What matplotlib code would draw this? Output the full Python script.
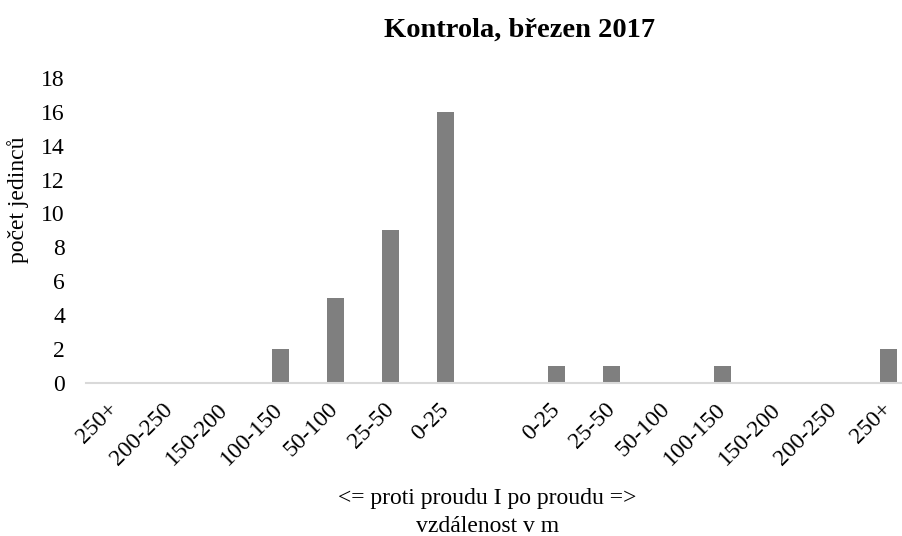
import matplotlib
matplotlib.use("Agg")
import matplotlib.pyplot as plt
import numpy as np

categories = ["250+", "200-250", "150-200", "100-150", "50-100", "25-50", "0-25", "",
              "0-25", "25-50", "50-100", "100-150", "150-200", "200-250", "250+"]
values = [0, 0, 0, 2, 5, 9, 16, 0, 1, 1, 0, 1, 0, 0, 2]
yticks = [0, 2, 4, 6, 8, 10, 12, 14, 16, 18]

title = "Kontrola, březen 2017"
ylabel = "počet jedinců"
xlabel_lines = ["<= proti proudu I po proudu =>", "vzdálenost v m"]

plt.rcParams['font.family'] = ['Liberation Serif', 'DejaVu Serif']

W, H = 903, 536
fig = plt.figure(figsize=(W / 100, H / 100), dpi=100)
left, right = 86.5 / W, 916 / W
bottom, top = (H - 382.7) / H, (H - 78) / H
ax = fig.add_axes([left, bottom, right - left, top - bottom])

x = np.arange(len(categories))
ax.bar(x, values, width=0.307, color="#7f7f7f", zorder=2)
ax.set_xlim(-0.5, len(categories) - 0.5)
ax.set_ylim(0, 18)
ax.set_yticks(yticks)
ax.set_yticklabels([str(v) for v in yticks], fontsize=17)
ax.set_xticks(x)
ax.set_xticklabels(categories, fontsize=17, rotation=45, ha="right",
                   va="center", rotation_mode="anchor")
ax.tick_params(axis="both", length=0)
ax.tick_params(axis="y", pad=15.5)
ax.tick_params(axis="x", pad=17)
for s in ["top", "right", "left"]:
    ax.spines[s].set_visible(False)
ax.spines["bottom"].set_color("#d9d9d9")
ax.spines["bottom"].set_linewidth(1.5)
ax.spines["bottom"].set_zorder(3)

fig.text(520 / W, 1 - 37 / H, title, ha="center", va="baseline",
         fontsize=20.5, fontweight="bold")
fig.text(18 / W, 1 - 200 / H, ylabel, ha="center", va="center",
         rotation=90, fontsize=17)
fig.text(487.5 / W, 1 - 504 / H, xlabel_lines[0], ha="center", va="baseline",
         fontsize=17)
fig.text(487.5 / W, 1 - 532 / H, xlabel_lines[1], ha="center", va="baseline",
         fontsize=17)

fig.savefig("out.png", dpi=100)
